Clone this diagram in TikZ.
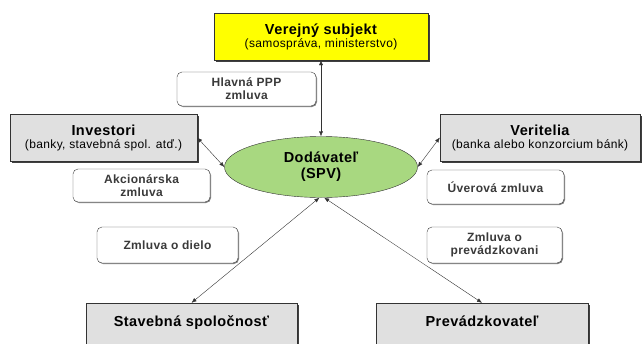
\documentclass[tikz,border=0pt]{standalone}
\usepackage{fontspec}
\setmainfont{Liberation Sans}[LetterSpace=3]
\usetikzlibrary{arrows.meta,shadows,shapes.geometric}

\definecolor{pubyellow}{HTML}{FFFF00}
\definecolor{boxgrey}{HTML}{E0E0E0}
\definecolor{spvgreen}{HTML}{A8D880}
\definecolor{labelgrey}{HTML}{3A3A3A}

\newcommand{\titlefont}{\bfseries\fontsize{14.5}{16}\selectfont}
\newcommand{\subfont}{\fontsize{12}{13}\selectfont}

\tikzset{
  party/.style={draw=black!80, fill=boxgrey, align=center, inner sep=0pt,
    drop shadow={shadow xshift=1.5pt, shadow yshift=-1.5pt, opacity=1, fill=black!75}},
  contract/.style={draw=black!75, fill=white, rounded corners=5pt, align=center,
    inner sep=0pt, font=\bfseries\fontsize{12}{13}\selectfont, text=labelgrey,
    drop shadow={shadow xshift=1pt, shadow yshift=-1pt, opacity=1, fill=black!50}},
  link/.style={{Latex[length=5pt,width=4pt]}-{Latex[length=5pt,width=4pt]}, black!80, thin},
}

\begin{document}
\begin{tikzpicture}[x=1pt,y=-1pt]
\useasboundingbox (0,0) rectangle (644,343);
\clip (0,0) rectangle (644,343);

% Parties
\node[party, fill=pubyellow, minimum width=214pt, minimum height=47pt] (pub) at (321,36.5)
  {{\titlefont Verejný subjekt}\\[1pt]{\subfont (samospráva, ministerstvo)}};
\node[party, minimum width=187pt, minimum height=47pt] (inv) at (103.5,137.5)
  {{\titlefont Investori}\\[1pt]{\subfont (banky, stavebná spol. atď.)}};
\node[party, minimum width=200pt, minimum height=47pt] (ver) at (540,137.5)
  {{\titlefont Veritelia}\\[1pt]{\subfont (banka alebo konzorcium bánk)}};
\node[party, minimum width=211pt, minimum height=50pt, text depth=14pt,
  font=\titlefont] (stav) at (191.5,328) {Stavebná spoločnosť};
\node[party, minimum width=212pt, minimum height=50pt, text depth=14pt,
  font=\titlefont] (prevadz) at (482,328) {Prevádzkovateľ};

% SPV
\node[draw=black!80, fill=spvgreen, ellipse, inner sep=0pt, minimum width=193pt, minimum height=61pt,
  align=center, font=\titlefont] (spv) at (321,167) {Dodávateľ\\(SPV)};

% Contracts
\node[contract, minimum width=139pt, minimum height=34pt] (hlav) at (246.5,89) {Hlavná PPP\\zmluva};
\node[contract, minimum width=137pt, minimum height=33pt] (akc) at (141.5,185.5) {Akcionárska\\zmluva};
\node[contract, minimum width=137pt, minimum height=34pt] (uver) at (495.5,187) {Úverová zmluva};
\node[contract, minimum width=141pt, minimum height=36pt] (dielo) at (167.5,245) {Zmluva o dielo};
\node[contract, minimum width=135pt, minimum height=36pt] (prev) at (494.5,245) {Zmluva o\\prevádzkovani};

% Links
\draw[link] (pub.south) -- (spv.north);
\draw[link] (inv.east) -- (spv.west);
\draw[link] (spv.east) -- (ver.west);
\draw[link] (spv.-93) -- (stav.north);
\draw[link] (spv.-84) -- (prevadz.north);

\end{tikzpicture}
\end{document}
